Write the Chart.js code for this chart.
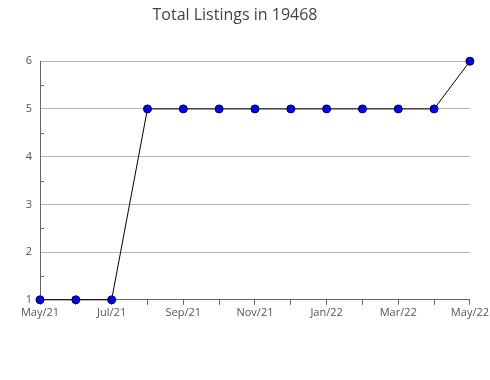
<!DOCTYPE html>
<html>
<head>
<meta charset="utf-8">
<script src="https://cdn.jsdelivr.net/npm/chart.js@4/dist/chart.umd.min.js"></script>
<style>
  html, body { margin: 0; padding: 0; background: #fff; }
  #wrap { width: 490px; height: 380px; }
</style>
</head>
<body>
<div id="wrap"><canvas id="myChart" width="490" height="380"></canvas></div>
<script>
// data
var months = ['May/21', 'Jun/21', 'Jul/21', 'Aug/21', 'Sep/21', 'Oct/21', 'Nov/21',
              'Dec/21', 'Jan/22', 'Feb/22', 'Mar/22', 'Apr/22', 'May/22'];
var listings = [1, 1, 1, 5, 5, 5, 5, 5, 5, 5, 5, 5, 6];
var yMin = 1;
var yMax = 6;

// small tick marks at the half values on the left axis
var minorTicks = {
  id: 'minorTicks',
  afterDraw: function(chart) {
    var y = chart.scales.y;
    var ctx = chart.ctx;
    ctx.save();
    ctx.strokeStyle = '#666';
    ctx.lineWidth = 1;
    for (var v = yMin + 0.5; v < yMax; v += 1) {
      var py = Math.round(y.getPixelForValue(v)) + 0.5;
      ctx.beginPath();
      ctx.moveTo(y.right, py);
      ctx.lineTo(y.right + 4, py);
      ctx.stroke();
    }
    ctx.restore();
  }
};

var ctx = document.getElementById('myChart');
var myChart = new Chart(ctx, {
  type: 'line',
  data: {
    labels: months,
    datasets: [{
      label: 'Total Listings',
      data: listings,
      borderColor: '#000',
      borderWidth: 1,
      backgroundColor: '#0000ff',
      pointBackgroundColor: '#0000ff',
      pointBorderColor: '#000033',
      pointBorderWidth: 1,
      pointRadius: 4,
      tension: 0,
      clip: false
    }]
  },
  options: {
    responsive: false,
    animation: false,
    layout: { padding: { left: 0, right: 20, top: 0, bottom: 60 } },
    plugins: {
      legend: { display: false },
      tooltip: { enabled: false },
      title: {
        display: true,
        text: 'Total Listings in 19468',
        color: '#444',
        font: { family: 'Open Sans', size: 16, weight: 'normal' },
        padding: { top: 6, bottom: 36 }
      }
    },
    scales: {
      x: {
        grid: { drawOnChartArea: false, drawTicks: true, tickLength: 5, color: '#666' },
        border: { color: '#666' },
        ticks: {
          autoSkip: false,
          maxRotation: 0,
          padding: 1,
          color: '#555',
          font: { family: 'Open Sans', size: 11 },
          callback: function(v, i) { return i % 2 === 0 ? months[i] : ''; }
        }
      },
      y: {
        min: yMin,
        max: yMax,
        afterFit: function(s) { s.width = 40; },
        grid: { color: '#b3b3b3', drawTicks: false },
        border: { color: '#666' },
        ticks: {
          stepSize: 1,
          padding: 8,
          color: '#555',
          font: { family: 'Open Sans', size: 11 }
        }
      }
    }
  },
  plugins: [minorTicks]
});
</script>
</body>
</html>
